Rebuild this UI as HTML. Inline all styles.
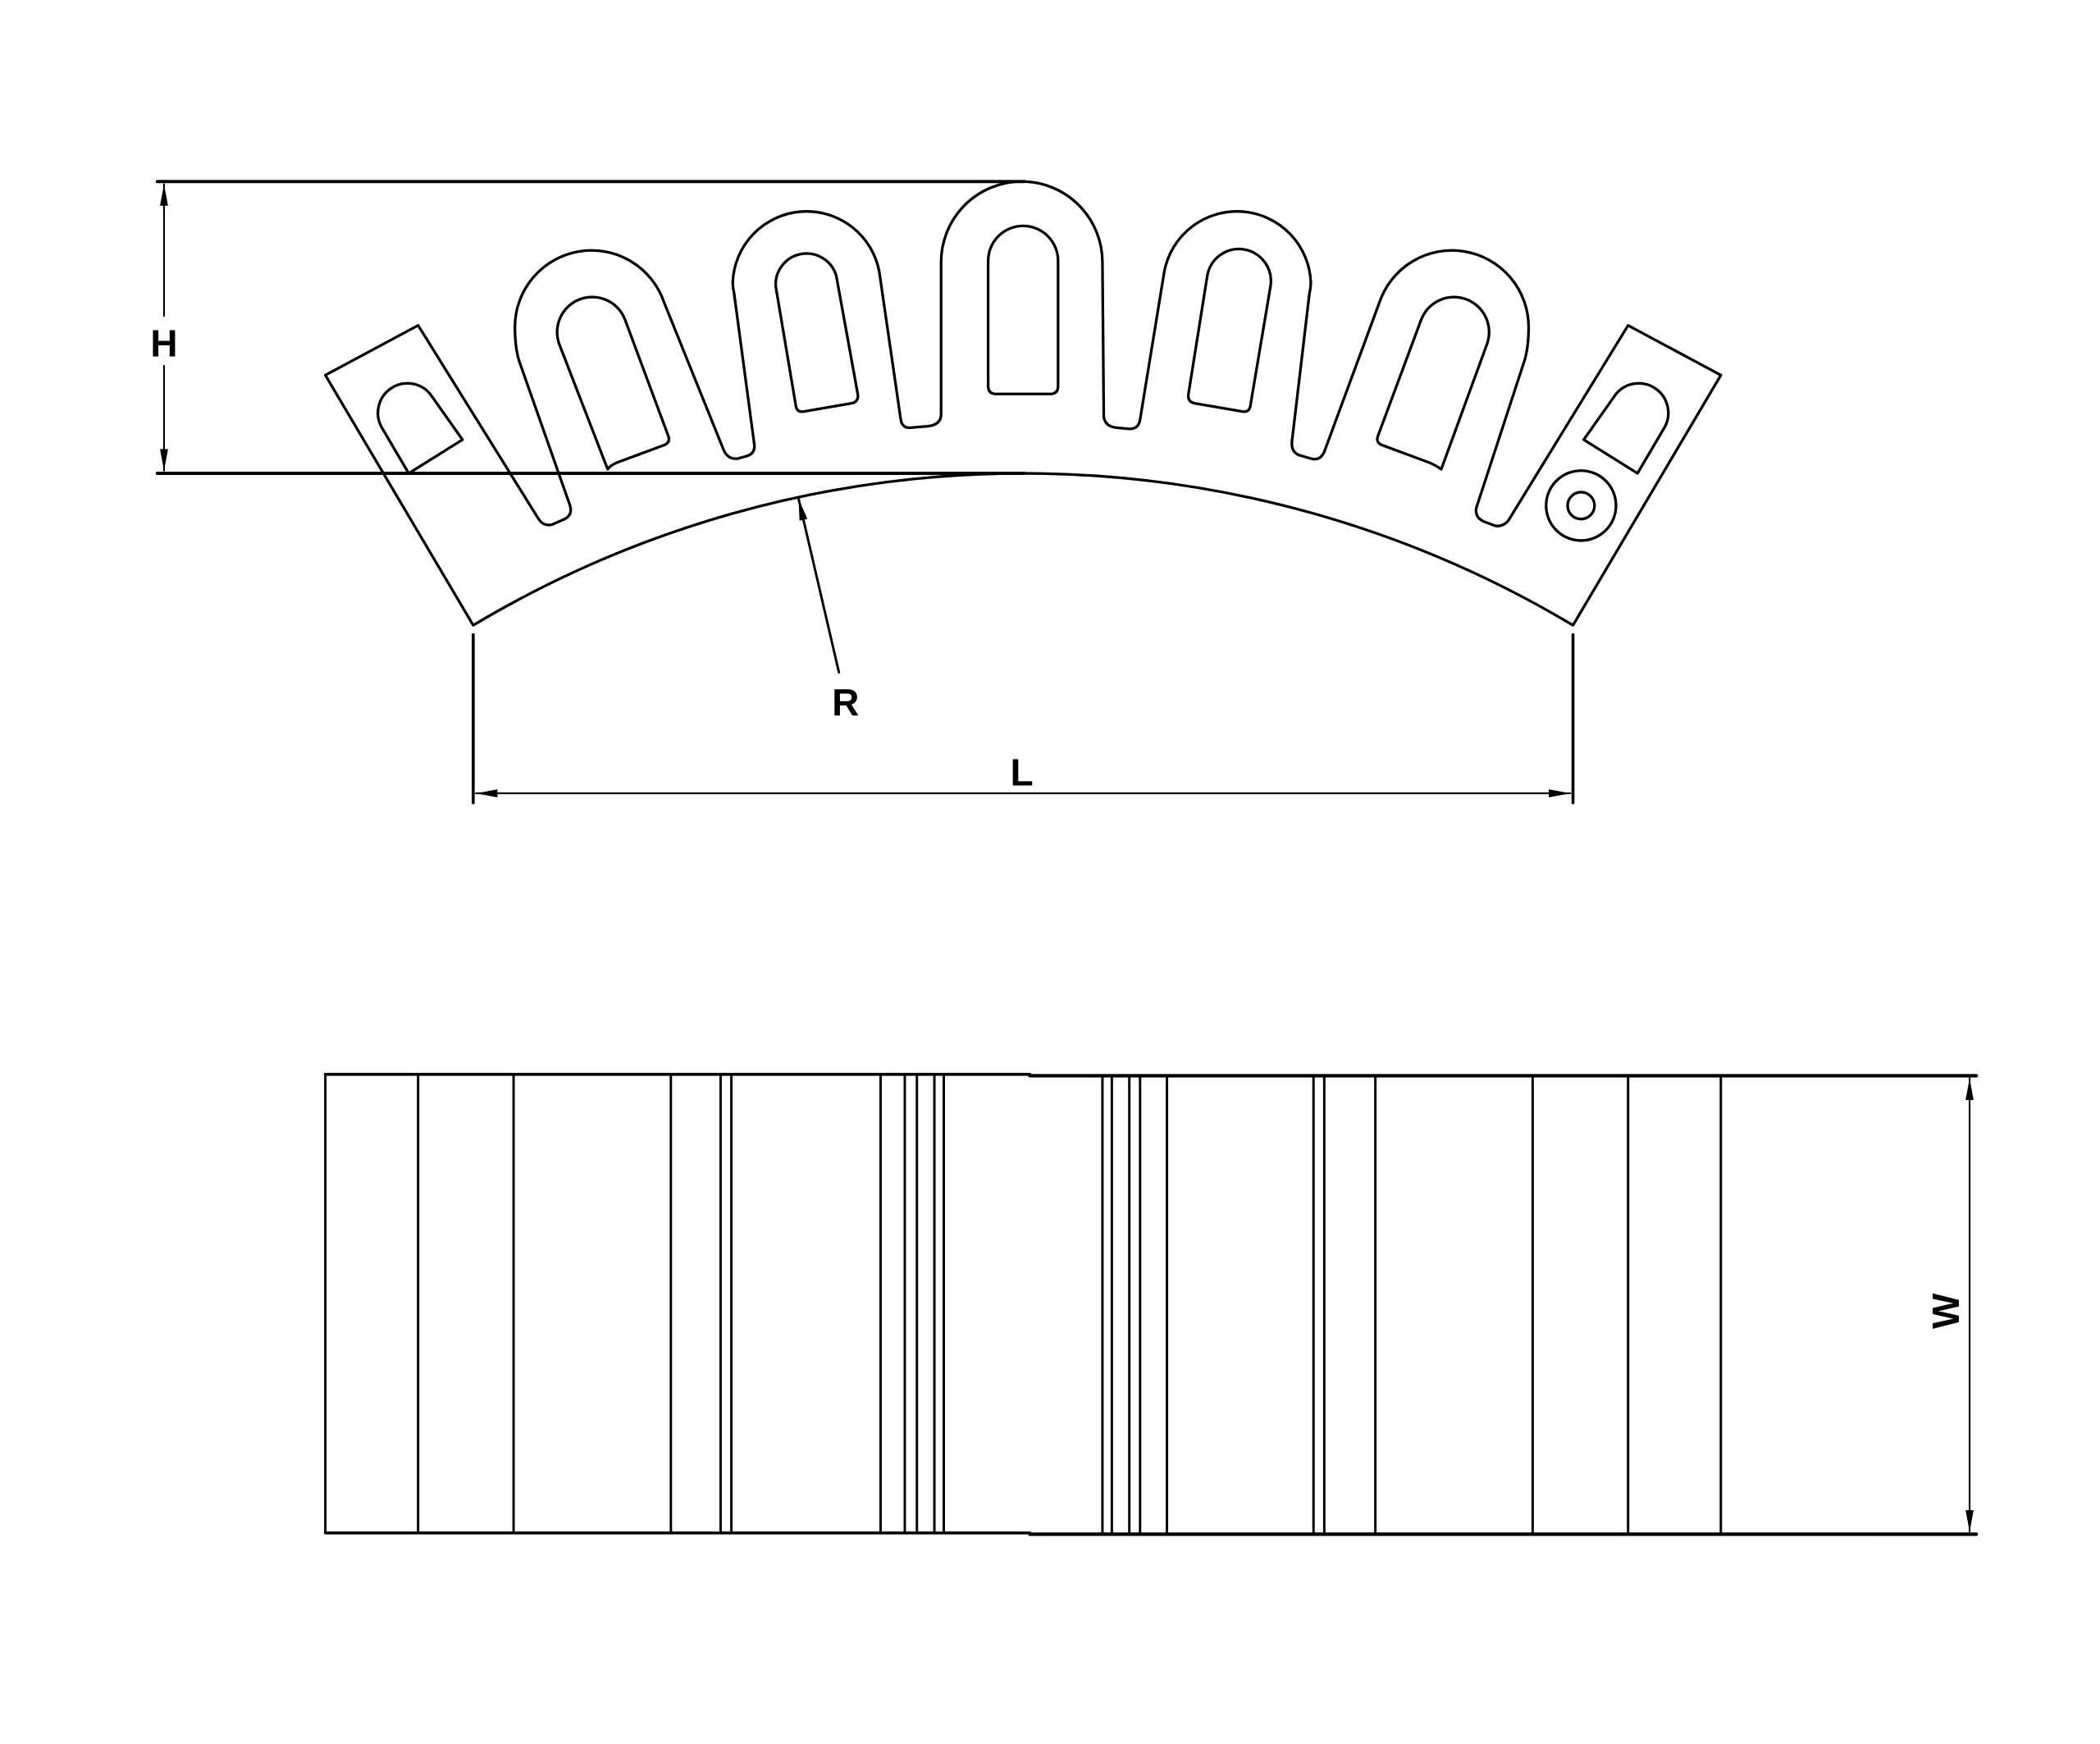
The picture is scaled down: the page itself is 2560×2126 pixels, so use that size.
<!DOCTYPE html>
<html><head><style>html,body{margin:0;padding:0;background:#fff;}svg{display:block}</style></head>
<body>
<svg width="2560" height="2126" viewBox="0 0 1562 1297" preserveAspectRatio="none" xmlns="http://www.w3.org/2000/svg">
<defs>
<marker id="a" viewBox="0 0 16 6" refX="16" refY="3" markerWidth="16" markerHeight="6" markerUnits="userSpaceOnUse" orient="auto-start-reverse"><path d="M0,0 L16,3 L0,6 Z" fill="#000"/></marker>
</defs>
<g fill="none" stroke="#000" stroke-width="2" stroke-linejoin="round" stroke-linecap="round">
<!-- H dimension -->
<line x1="117" y1="135" x2="762" y2="135" stroke-width="2.4"/>
<line x1="117" y1="352" x2="762" y2="352" stroke-width="2.4"/>
<line x1="122" y1="137" x2="122" y2="235" stroke-width="1.3" marker-start="url(#a)"/>
<line x1="122" y1="272" x2="122" y2="350" stroke-width="1.3" marker-end="url(#a)"/>
<!-- outer contour -->
<path d="M352,465 L242,279 L311,242 L400,385 Q404,392 411,390 L420,386 Q426,383 424,376 L386,268 Q383,258 383,243 A57,57 0 0 1 494,225 L538,334 Q541,342 549,341 L556,339 Q562,337 561,330 L546,218 Q545,214 545,210 A55,55 0 0 1 654,202 L670,312 Q671,319 678,318 L690,317 Q700,316 700,308 L700,195 A60,60 0 0 1 820,195 L821,310 Q822,317 830,318 L840,319 Q847,319 848,312 L866,202 A55,55 0 0 1 975,210 Q975,214 974,218 L961,328 Q960,337 968,339 L975,341 Q982,343 985,336 L1026,225 A57,57 0 0 1 1137,243 Q1137,258 1134,268 L1098,378 Q1097,385 1104,388 L1112,391 Q1118,392 1122,387 L1211,242 L1280,279 L1170,465 A797,797 0 0 0 352,465 Z"/>
<!-- inner slots -->
<path d="M304,352 L284,318 A22,22 0 0 1 320,293 L344,327 Z"/>
<path d="M452,349 L416,256 A25,25 0 0 1 465,238 L497,324 Q499,329 494,331 L459,344 Q454,346 452,349 Z"/>
<path d="M592,302 L577,213 A23,23 0 0 1 622,205 L638,293 Q639,299 633,300 L598,306 Q593,307 592,302 Z"/>
<path d="M735,287 L735,194 A26,26 0 0 1 787,194 L787,287 Q787,293 781,293 L741,293 Q735,293 735,287 Z"/>
<path d="M930,302 L945,213 A23,23 0 0 0 898,205 L884,293 Q883,299 889,300 L924,306 Q929,307 930,302 Z"/>
<path d="M1072,349 L1106,256 A25,25 0 0 0 1057,238 L1025,324 Q1023,329 1028,331 L1063,344 Q1068,346 1072,349 Z"/>
<path d="M1218,352 L1238,318 A22,22 0 0 0 1202,293 L1178,327 Z"/>
<circle cx="1176" cy="376" r="26"/>
<circle cx="1176" cy="376" r="10"/>
<!-- R leader -->
<line x1="624" y1="500" x2="594" y2="371" stroke-width="1.8" marker-end="url(#a)"/>
<!-- L dimension -->
<line x1="352" y1="472" x2="352" y2="597" stroke-width="2.2"/>
<line x1="1170" y1="472" x2="1170" y2="597" stroke-width="2.2"/>
<line x1="354" y1="590" x2="1168" y2="590" stroke-width="1.3" marker-start="url(#a)" marker-end="url(#a)"/>
<!-- bottom view -->
<line x1="242" y1="799" x2="766" y2="799" stroke-width="2.2"/>
<line x1="766" y1="800" x2="1470" y2="800" stroke-width="2.6"/>
<line x1="242" y1="1140" x2="766" y2="1140" stroke-width="2.2"/>
<line x1="766" y1="1141" x2="1470" y2="1141" stroke-width="2.6"/>
<g stroke-width="1.8">
<line x1="242" y1="799" x2="242" y2="1140"/>
<line x1="311" y1="799" x2="311" y2="1140"/>
<line x1="382" y1="799" x2="382" y2="1140"/>
<line x1="499" y1="799" x2="499" y2="1140"/>
<line x1="536" y1="799" x2="536" y2="1140"/>
<line x1="544" y1="799" x2="544" y2="1140"/>
<line x1="655" y1="799" x2="655" y2="1140"/>
<line x1="673" y1="799" x2="673" y2="1140"/>
<line x1="682" y1="799" x2="682" y2="1140"/>
<line x1="695" y1="799" x2="695" y2="1140"/>
<line x1="702" y1="799" x2="702" y2="1140"/>
<line x1="820" y1="800" x2="820" y2="1141"/>
<line x1="827" y1="800" x2="827" y2="1141"/>
<line x1="840" y1="800" x2="840" y2="1141"/>
<line x1="848" y1="800" x2="848" y2="1141"/>
<line x1="868" y1="800" x2="868" y2="1141"/>
<line x1="977" y1="800" x2="977" y2="1141"/>
<line x1="985" y1="800" x2="985" y2="1141"/>
<line x1="1023" y1="800" x2="1023" y2="1141"/>
<line x1="1140" y1="800" x2="1140" y2="1141"/>
<line x1="1211" y1="800" x2="1211" y2="1141"/>
<line x1="1280" y1="800" x2="1280" y2="1141"/>
</g>
<line x1="1465" y1="802" x2="1465" y2="1139" stroke-width="1.3" marker-start="url(#a)" marker-end="url(#a)"/>
</g>
<g font-family="Liberation Sans, sans-serif" font-weight="bold" font-size="28" fill="#000" text-anchor="middle">
<text x="122" y="265">H</text>
<text x="629" y="532">R</text>
<text x="760" y="584">L</text>
<text x="0" y="0" transform="translate(1457,975) rotate(-90)">W</text>
</g>
</svg>
</body></html>
